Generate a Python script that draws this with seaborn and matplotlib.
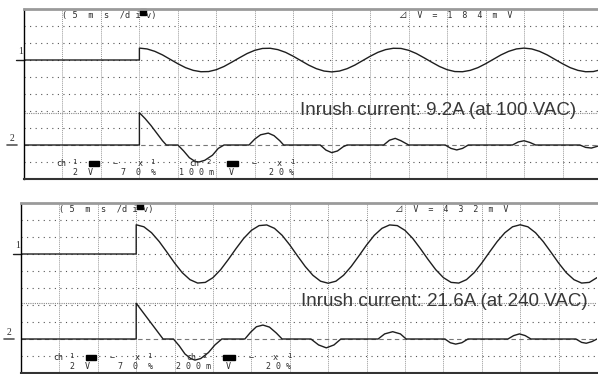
import numpy as np
import pandas as pd
import matplotlib
matplotlib.use("Agg")
import matplotlib.pyplot as plt
import seaborn as sns
from matplotlib.patches import Rectangle

sns.set_style("white")
plt.rcParams['font.family'] = ['DejaVu Sans', 'Noto Sans CJK JP']

# time axis in scope divisions (5 ms/div), trigger on division 3
trigger_div = 3.0
ac_time = np.round(np.arange(3.0, 15.01, 0.2), 1)

# ch1 = AC input voltage in divisions
ch1_100vac = [7.70, 7.65, 7.51, 7.30, 7.04, 6.78, 6.55, 6.39, 6.31, 6.32, 6.43,
              6.62, 6.87, 7.13, 7.38, 7.57, 7.68, 7.69, 7.61, 7.45, 7.22, 6.96,
              6.70, 6.49, 6.35, 6.30, 6.35, 6.49, 6.70, 6.96, 7.22, 7.45, 7.61,
              7.69, 7.68, 7.57, 7.38, 7.13, 6.87, 6.62, 6.43, 6.32, 6.31, 6.39,
              6.55, 6.78, 7.04, 7.30, 7.51, 7.65, 7.70, 7.65, 7.51, 7.30, 7.04,
              6.78, 6.55, 6.39, 6.31, 6.32, 6.43]
ch1_240vac = [8.72, 8.60, 8.25, 7.73, 7.11, 6.47, 5.90, 5.49, 5.29, 5.33, 5.61,
              6.08, 6.68, 7.32, 7.92, 8.39, 8.67, 8.71, 8.51, 8.10, 7.53, 6.89,
              6.27, 5.75, 5.40, 5.28, 5.40, 5.75, 6.27, 6.89, 7.53, 8.10, 8.51,
              8.71, 8.67, 8.39, 7.92, 7.32, 6.68, 6.08, 5.61, 5.33, 5.29, 5.49,
              5.90, 6.47, 7.11, 7.73, 8.25, 8.60, 8.72, 8.60, 8.25, 7.73, 7.11,
              6.47, 5.90, 5.49, 5.29, 5.33, 5.61]

# ch2 = input current
ch2_100vac_t = [0.0, 3.0, 3.0, 3.15, 3.3, 3.45, 3.6, 3.7, 4.0, 4.15, 4.3, 4.45,
                4.55, 4.7, 4.9, 5.05, 5.2, 5.85, 6.0, 6.15, 6.35, 6.5, 6.65, 6.75,
                7.7, 7.85, 8.0, 8.15, 8.3, 8.4, 9.35, 9.5, 9.65, 9.8, 10.0, 10.95,
                11.1, 11.25, 11.4, 11.55, 12.7, 12.85, 13.0, 13.15, 13.3, 14.45,
                14.6, 14.75, 14.9, 15.0]
ch2_100vac = [2.0, 2.0, 3.9, 3.55, 3.15, 2.7, 2.25, 2.0, 2.0, 1.65, 1.25, 1.03,
              1.0, 1.1, 1.4, 1.8, 2.0, 2.0, 2.35, 2.6, 2.7, 2.55, 2.25, 2.0,
              2.0, 1.7, 1.55, 1.65, 1.9, 2.0, 2.0, 2.28, 2.39, 2.25, 2.0, 2.0,
              1.8, 1.71, 1.8, 2.0, 2.0, 2.18, 2.25, 2.15, 2.0, 2.0,
              1.86, 1.82, 1.92, 2.0]
ch2_240vac_t = [0.0, 3.0, 3.0, 3.15, 3.3, 3.45, 3.6, 3.7, 3.97, 4.12, 4.27, 4.42,
                4.53, 4.68, 4.88, 5.05, 5.23, 5.83, 5.98, 6.13, 6.3, 6.47, 6.65,
                6.8, 7.55, 7.75, 7.95, 8.15, 8.33, 9.3, 9.47, 9.68, 9.88, 10.03,
                11.04, 11.18, 11.32, 11.48, 11.64, 12.68, 12.83, 12.98, 13.13,
                13.28, 14.45, 14.6, 14.72, 14.87, 15.0]
ch2_240vac = [2.0, 2.0, 4.1, 3.65, 3.2, 2.75, 2.3, 2.0, 2.0, 1.6, 1.12, 0.85,
              0.76, 0.85, 1.2, 1.65, 2.0, 2.0, 2.4, 2.72, 2.82, 2.7, 2.35,
              2.0, 2.0, 1.65, 1.48, 1.65, 2.0, 2.0, 2.3, 2.43, 2.3, 2.0,
              2.0, 1.78, 1.7, 1.78, 2.0, 2.0, 2.2, 2.3, 2.2,
              2.0, 2.0, 1.8, 1.75, 1.85, 2.0]

ch1_level = 7.0
ch2_level = 2.0
cursor_100vac = 3.9
cursor_240vac = 4.1

delta_v = ["1  8  4", "4  3  2"]
ch2_scale = ["1 0 0", "2 0 0"]
inrush = ["Inrush current: 9.2A (at 100 VAC)", "Inrush current: 21.6A (at 240 VAC)"]

TRACE = "#1e1e1e"
TXT = "#2e2e2e"
MONO = ["DejaVu Sans Mono", "Noto Sans CJK JP"]


def mono(ax, x, y, s, size=6.0):
    ax.text(x, y, s, family=MONO, fontsize=size, color=TXT,
            ha="left", va="center")


def draw_panel(ax, ch1, ch2_t, ch2, cursor, dv, scale, title, title_x):
    ax.set_xlim(0, 15)
    ax.set_ylim(0, 10)

    # graticule
    ax.set_xticks(range(1, 15))
    ax.set_yticks([1, 3, 4, 5, 6, 7, 8, 9])
    ax.xaxis.grid(True, ls=(0, (1, 1)), color="#9a9a9a", lw=0.7)
    ax.yaxis.grid(True, ls=(0, (1, 4)), color="#555555", lw=0.8)
    ax.tick_params(length=0, labelbottom=False, labelleft=False)

    # cursors
    ax.axhline(ch2_level, ls=(0, (4, 3)), color="#777777", lw=0.8)
    ax.axhline(cursor, ls=(0, (1, 1)), color="#8a8a8a", lw=0.8)

    v1 = pd.DataFrame({"t": [0.0, trigger_div] + list(ac_time),
                       "v": [ch1_level, ch1_level] + list(ch1)})
    v2 = pd.DataFrame({"t": ch2_t, "v": ch2})
    sns.lineplot(data=v1, x="t", y="v", sort=False, estimator=None,
                 color=TRACE, lw=1.0, ax=ax)
    sns.lineplot(data=v2, x="t", y="v", sort=False, estimator=None,
                 color=TRACE, lw=1.0, ax=ax)
    ax.set_xlabel("")
    ax.set_ylabel("")

    ax.spines["right"].set_visible(False)
    ax.spines["top"].set_color("#9a9a9a")
    ax.spines["top"].set_linewidth(2.0)
    ax.spines["left"].set_color("black")
    ax.spines["left"].set_linewidth(1.0)
    ax.spines["bottom"].set_color("#333333")
    ax.spines["bottom"].set_linewidth(1.5)

    # trigger mark and channel markers
    ax.plot([trigger_div + 0.1], [9.8], marker="s", ms=4.2, color="black",
            clip_on=False)
    ax.plot([-0.21, 0], [ch1_level, ch1_level], color=TRACE, lw=1.0, clip_on=False)
    ax.plot([-0.44, -0.18], [ch2_level, ch2_level], color="#555555", lw=1.2,
            clip_on=False)
    ax.text(-0.1, ch1_level + 0.5, "1", family="Liberation Serif", fontsize=7,
            ha="center", va="center", color=TXT, clip_on=False)
    ax.text(-0.31, ch2_level + 0.4, "2", family="Liberation Serif", fontsize=7,
            ha="center", va="center", color=TXT, clip_on=False)

    # scope readouts
    mono(ax, 1.0, 9.6, "( 5  m  s  /d i v)", 6.2)
    mono(ax, 9.75, 9.6, "⊿  V  =  " + dv + "  m  V", 6.0)
    row1, row2 = 0.9, 0.36
    mono(ax, 0.83, row1, "ch")
    mono(ax, 1.25, row1 + 0.12, "1", 5.2)
    ax.add_patch(Rectangle((1.68, row1 - 0.15), 0.28, 0.32, color="black"))
    mono(ax, 2.3, row1, "−")
    mono(ax, 2.95, row1, "x")
    mono(ax, 3.28, row1 + 0.12, "1", 5.2)
    mono(ax, 4.3, row1, "ch")
    mono(ax, 4.73, row1 + 0.12, "2", 5.2)
    ax.add_patch(Rectangle((5.27, row1 - 0.15), 0.29, 0.32, color="black"))
    mono(ax, 5.92, row1, "−")
    mono(ax, 6.56, row1, "x")
    mono(ax, 6.92, row1 + 0.12, "1", 5.2)
    mono(ax, 1.28, row2, "2  V")
    mono(ax, 2.52, row2, "7  0  %")
    mono(ax, 4.04, row2, scale + " m   V")
    mono(ax, 6.38, row2, "2 0 %")

    ax.text(title_x, cursor + 0.12, title, family="Liberation Sans",
            fontsize=13.5, color="#383838", ha="left", va="center")


fig = plt.figure(figsize=(5.98, 3.74), dpi=100)
ax_top = fig.add_axes([24 / 598, 195 / 374, 577 / 598, 170 / 374])
ax_bot = fig.add_axes([21 / 598, 1 / 374, 576 / 598, 170 / 374])

draw_panel(ax_top, ch1_100vac, ch2_100vac_t, ch2_100vac, cursor_100vac,
           delta_v[0], ch2_scale[0], inrush[0], 7.17)
draw_panel(ax_bot, ch1_240vac, ch2_240vac_t, ch2_240vac, cursor_240vac,
           delta_v[1], ch2_scale[1], inrush[1], 7.29)

fig.savefig("out.png", dpi=100, facecolor="white")
